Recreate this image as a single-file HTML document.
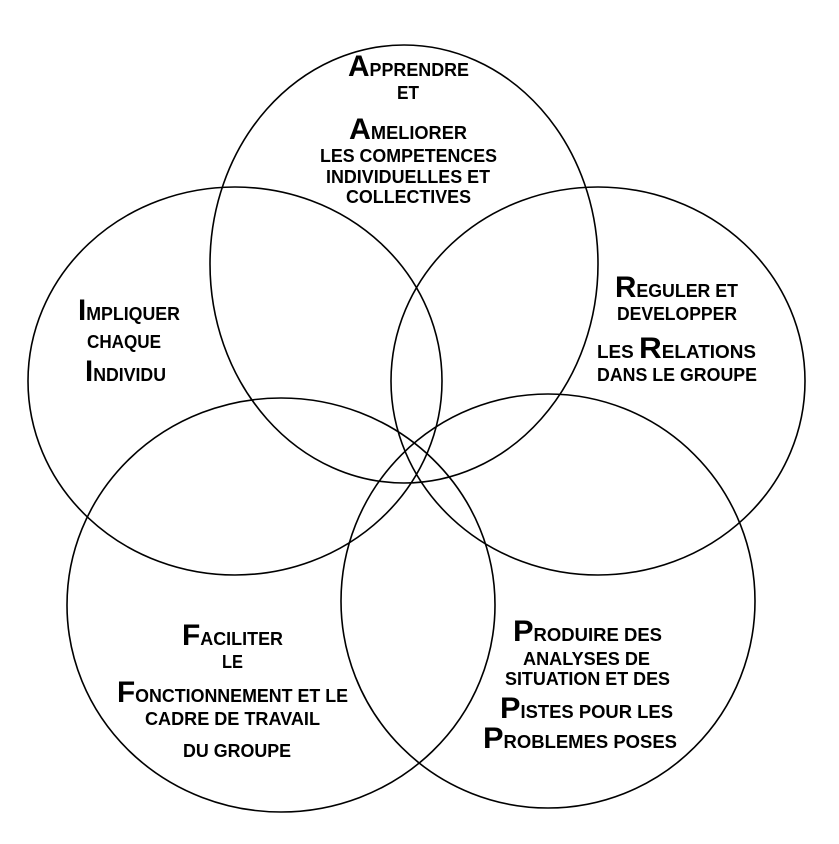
<!DOCTYPE html>
<html><head><meta charset="utf-8"><style>
html,body{margin:0;padding:0;background:#fff;}
svg{display:block;}
text{font-family:"Liberation Sans",Arial,sans-serif;font-weight:bold;fill:#000;}
.b{font-size:30px;}
.s{font-size:18px;}
</style></head><body>
<svg width="839" height="844" viewBox="0 0 839 844" xmlns="http://www.w3.org/2000/svg">
<g fill="none" stroke="#000" stroke-width="1.6">
<ellipse cx="404" cy="264" rx="194" ry="219"/>
<ellipse cx="235" cy="381" rx="207" ry="194"/>
<ellipse cx="598" cy="381" rx="207" ry="194"/>
<ellipse cx="281" cy="605" rx="214" ry="207"/>
<ellipse cx="548" cy="601" rx="207" ry="207"/>
</g>
<text x="348" y="76" textLength="121" lengthAdjust="spacingAndGlyphs"><tspan class="b">A</tspan><tspan class="s">PPRENDRE</tspan></text>
<text x="397" y="99" class="s" textLength="22" lengthAdjust="spacingAndGlyphs">ET</text>
<text x="349" y="139" textLength="118" lengthAdjust="spacingAndGlyphs"><tspan class="b">A</tspan><tspan class="s">MELIORER</tspan></text>
<text x="320" y="162" class="s" textLength="177" lengthAdjust="spacingAndGlyphs">LES COMPETENCES</text>
<text x="326" y="183" class="s" textLength="164" lengthAdjust="spacingAndGlyphs">INDIVIDUELLES ET</text>
<text x="346" y="203" class="s" textLength="125" lengthAdjust="spacingAndGlyphs">COLLECTIVES</text>
<text x="78" y="320" textLength="102" lengthAdjust="spacingAndGlyphs"><tspan class="b">I</tspan><tspan class="s">MPLIQUER</tspan></text>
<text x="87" y="348" class="s" textLength="74" lengthAdjust="spacingAndGlyphs">CHAQUE</text>
<text x="85" y="381" textLength="81" lengthAdjust="spacingAndGlyphs"><tspan class="b">I</tspan><tspan class="s">NDIVIDU</tspan></text>
<text x="615" y="297" textLength="123" lengthAdjust="spacingAndGlyphs"><tspan class="b">R</tspan><tspan class="s">EGULER ET</tspan></text>
<text x="617" y="320" class="s" textLength="120" lengthAdjust="spacingAndGlyphs">DEVELOPPER</text>
<text x="597" y="358" textLength="159" lengthAdjust="spacingAndGlyphs"><tspan class="s">LES </tspan><tspan class="b">R</tspan><tspan class="s">ELATIONS</tspan></text>
<text x="597" y="381" class="s" textLength="160" lengthAdjust="spacingAndGlyphs">DANS LE GROUPE</text>
<text x="182" y="645" textLength="101" lengthAdjust="spacingAndGlyphs"><tspan class="b">F</tspan><tspan class="s">ACILITER</tspan></text>
<text x="222" y="668" class="s" textLength="21" lengthAdjust="spacingAndGlyphs">LE</text>
<text x="117" y="702" textLength="231" lengthAdjust="spacingAndGlyphs"><tspan class="b">F</tspan><tspan class="s">ONCTIONNEMENT ET LE</tspan></text>
<text x="145" y="725" class="s" textLength="175" lengthAdjust="spacingAndGlyphs">CADRE DE TRAVAIL</text>
<text x="183" y="757" class="s" textLength="108" lengthAdjust="spacingAndGlyphs">DU GROUPE</text>
<text x="513" y="641" textLength="149" lengthAdjust="spacingAndGlyphs"><tspan class="b">P</tspan><tspan class="s">RODUIRE  DES</tspan></text>
<text x="523" y="665" class="s" textLength="127" lengthAdjust="spacingAndGlyphs">ANALYSES DE</text>
<text x="505" y="685" class="s" textLength="165" lengthAdjust="spacingAndGlyphs">SITUATION ET DES</text>
<text x="500" y="718" textLength="173" lengthAdjust="spacingAndGlyphs"><tspan class="b">P</tspan><tspan class="s">ISTES POUR  LES</tspan></text>
<text x="483" y="748" textLength="194" lengthAdjust="spacingAndGlyphs"><tspan class="b">P</tspan><tspan class="s">ROBLEMES  POSES</tspan></text>
</svg>
</body></html>
